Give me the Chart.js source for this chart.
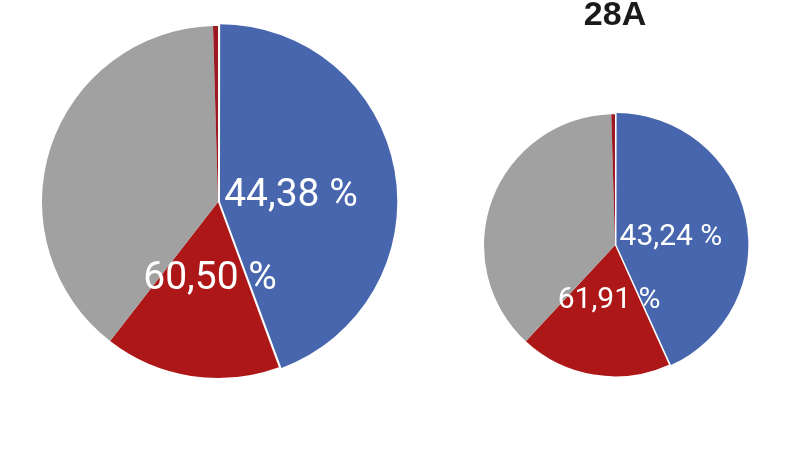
<!DOCTYPE html>
<html>
<head>
<meta charset="utf-8">
<script src="https://cdn.jsdelivr.net/npm/chart.js@4.4.1/dist/chart.umd.min.js"></script>
<style>
  body { margin: 0; background: #fff; width: 800px; height: 450px; overflow: hidden; }
  .box { position: absolute; }
</style>
</head>
<body>
<div class="box" style="left:27px; top:11px; width:382px; height:382px;"><canvas id="pieLeft"></canvas></div>
<div class="box" style="left:465px; top:0px; width:300px; height:450px;"><canvas id="pieRight"></canvas></div>

<script>
// slice order: blue, red, gray, thin red sliver
var sliceColors = ['#4766ad', '#ad1717', '#a1a1a1', '#9c1822'];
var leftValues = [44.38, 16.12, 39.05, 0.45];
var rightValues = [43.24, 18.67, 37.64, 0.45];
var chartTitles = ['', '28A'];

function fmt(v) {
  return v.toFixed(2).replace('.', ',') + ' %';
}

// draws the two white labels: share of slice 0 and cumulative share of slices 0+1
var pctLabels = {
  id: 'pctLabels',
  afterDatasetsDraw: function(chart, args, opts) {
    var meta = chart.getDatasetMeta(0);
    var vals = chart.data.datasets[0].data;
    var arc = meta.data[1];
    var cx = arc.x, cy = arc.y, r = arc.outerRadius;
    var ctx = chart.ctx;
    ctx.save();
    ctx.fillStyle = '#fff';
    ctx.font = opts.size + 'px Roboto';
    ctx.textBaseline = 'middle';
    ctx.textAlign = 'left';
    ctx.fillText(fmt(vals[0]), cx + 0.035 * r, cy + opts.y1 * r);
    ctx.textAlign = 'center';
    ctx.fillText(fmt(vals[0] + vals[1]), cx - 0.045 * r, cy + opts.y2 * r);
    ctx.restore();
  }
};

function makePie(id, values, title, radius, offset, labels, pad) {
  new Chart(document.getElementById(id), {
    type: 'pie',
    data: {
      labels: ['a', 'b', 'c', 'd'],
      datasets: [{
        data: values,
        backgroundColor: sliceColors,
        borderWidth: 0,
        offset: [offset, 0, 0, 0]
      }]
    },
    options: {
      responsive: true,
      maintainAspectRatio: false,
      animation: false,
      radius: radius,
      layout: { padding: 0 },
      plugins: {
        legend: { display: false },
        tooltip: { enabled: false },
        title: {
          display: title !== '',
          text: title,
          color: '#1a1a1a',
          font: { family: 'Liberation Sans', size: 34, weight: 'bold', lineHeight: 0.9 },
          padding: pad
        },
        pctLabels: labels
      }
    },
    plugins: [pctLabels]
  });
}

makePie('pieLeft', leftValues, chartTitles[0], 176, 8, { size: 39, y1: -0.03, y2: 0.44 }, 0);
makePie('pieRight', rightValues, chartTitles[1], 131, 6, { size: 30, y1: -0.06, y2: 0.42 }, { top: 0, bottom: 10 });
</script>
</body>
</html>
